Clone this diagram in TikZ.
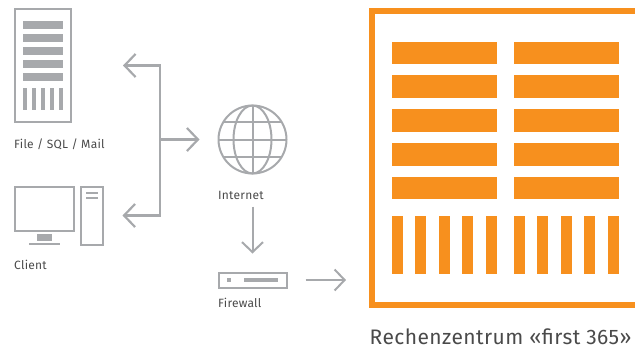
\documentclass[tikz,border=0pt]{standalone}
\usepackage{fontspec}
\setmainfont{Fira Sans}[LetterSpace=2]
\usetikzlibrary{arrows.meta}
\definecolor{icongray}{HTML}{A7A9AC}
\definecolor{dcorange}{HTML}{F7901E}
\definecolor{labelgray}{HTML}{4A4A4A}
\tikzset{>={Straight Barb[length=11pt,width=23pt,line width=2.2pt]}}
\tikzset{
  icon/.style={draw=icongray,line width=2pt,inner sep=0pt,outer sep=0pt},
  link/.style={draw=icongray,line width=2.2pt},
  thinlink/.style={draw=icongray,line width=2pt,>={Straight Barb[length=10pt,width=21pt,line width=2pt]}},
  label/.style={text=labelgray,font=\fontsize{12}{15}\selectfont,anchor=base west,inner sep=0pt},
  bar/.style={fill=icongray,draw=none},
  orangebar/.style={fill=dcorange,draw=none}
}

\begin{document}
\begin{tikzpicture}[x=1pt,y=-1pt]
  \useasboundingbox (0,0) rectangle (635,349);
  % server
  \node[icon,minimum width=55.5pt,minimum height=113pt] (srv) at (42.75,65.5) {};
  \foreach \y in {21,34,47,60,73}
    \fill[bar] (22.5,\y) rectangle (63,\y+8);
  \foreach \x in {22.5,31.5,40.5,49.5,58.5}
    \fill[bar] (\x,88) rectangle (\x+4.5,110);
  \node[label] (srvlabel) at (14,148) {File / SQL / Mail};
  % client
  \node[icon,minimum width=59.5pt,minimum height=44pt] (screen) at (44.5,208.5) {};
  \fill[bar] (37,234) rectangle (52,241);
  \fill[bar] (29,243) rectangle (60,245);
  \node[icon,minimum width=22pt,minimum height=58pt] (tower) at (92,215.5) {};
  \foreach \y in {193,198}
    \draw[icongray,line width=2pt] (86,\y) -- (98,\y);
  \node[label] (clientlabel) at (14,269) {Client};
  % internet
  \node[icon,circle,minimum size=68pt] (globe) at (252.5,139.5) {};
  \draw[icongray,line width=2pt] (globe.center) ellipse (19 and 34);
  \draw[icongray,line width=2pt] (globe.north) -- (globe.south);
  \draw[icongray,line width=2pt] (globe.west) -- (globe.east);
  \draw[icongray,line width=2pt] (223,122) -- (282,122);
  \draw[icongray,line width=2pt] (223,157) -- (282,157);
  \node[label] (netlabel) at (218,199) {Internet};
  % firewall
  \node[icon,minimum width=68pt,minimum height=15pt] (fw) at (252.5,280) {};
  \fill[bar] (227,278) rectangle (231,282);
  \fill[bar] (244,278) rectangle (278,282);
  \node[label] (fwlabel) at (218,307) {Firewall};
  % Rechenzentrum
  \node[draw=dcorange,line width=6pt,minimum width=272pt,minimum height=294pt,inner sep=0pt,outer sep=0pt] (dc) at (508,158) {};
  \foreach \y in {41.7,75.4,109.2,143,176.8}
  {
    \fill[orangebar] (391.7,\y) rectangle (497,\y+22.5);
    \fill[orangebar] (513.7,\y) rectangle (619,\y+22.5);
  }
  \foreach \i in {0,...,4}
  {
    \fill[orangebar] (391.7+\i*23.45,216.3) rectangle (403+\i*23.45,274.3);
    \fill[orangebar] (513.7+\i*23.45,216.3) rectangle (525+\i*23.45,274.3);
  }
  \node[label,font=\fontsize{21}{25}\selectfont] (dclabel) at (369.5,344.5) {Rechenzentrum «first 365»};
  % connectors
  \coordinate (bus) at (160,139.5);
  \draw[link,<->,shorten <=52.5pt,shorten >=19.5pt] (srv.east) -| (bus) |- (tower.east);
  \draw[link,->,shorten >=19pt] (bus) -- (globe);
  \draw[thinlink,->,shorten <=33pt,shorten >=19pt] (globe) -- (fw);
  \draw[thinlink,->,shorten <=19pt,shorten >=26pt] (fw.east) -- (fw.east -| dc.west);
\end{tikzpicture}
\end{document}
